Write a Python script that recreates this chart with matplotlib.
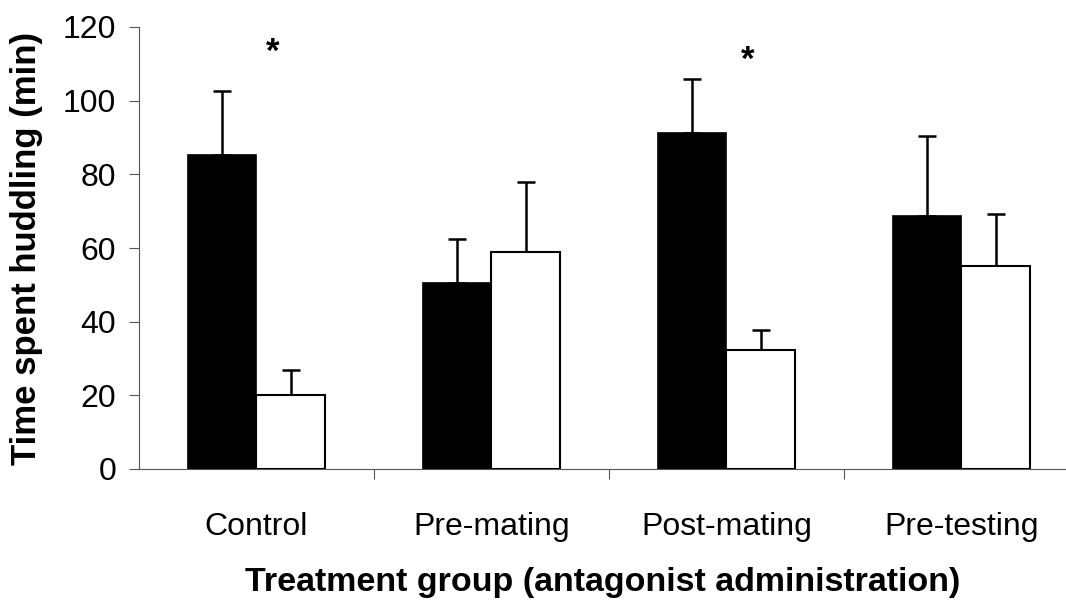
import matplotlib
matplotlib.use("Agg")
import matplotlib.pyplot as plt
import numpy as np

# huddling time per treatment group, mean and upper SEM
groups = ['Control', 'Pre-mating', 'Post-mating', 'Pre-testing']
mean_black = [85.3, 50.6, 91.3, 68.6]
sem_black = [17.3, 11.8, 14.5, 21.9]
mean_white = [20.1, 59.0, 32.3, 55.1]
sem_white = [6.7, 18.8, 5.4, 14.1]
# groups marked as significant
star_groups = [0, 2]
star_y = [113.2, 111.0]

plt.rcParams['font.family'] = ['Liberation Sans', 'DejaVu Sans']

fig = plt.figure(figsize=(10.66, 6.05), dpi=100)
ax = fig.add_axes([139 / 1066, 1 - 469 / 605, 1 - 139 / 1066, (469 - 27) / 605])

x = np.arange(len(groups))
w = 0.291

ax.bar(x - w / 2, mean_black, w, color='black', edgecolor='black', linewidth=1.2, zorder=2)
ax.bar(x + w / 2, mean_white, w, color='white', edgecolor='black', linewidth=1.5, zorder=2)

ax.errorbar(x - w / 2, mean_black, yerr=[np.zeros(4), sem_black], fmt='none',
            ecolor='black', elinewidth=1.8, capsize=6.5, capthick=1.8, zorder=1)
ax.errorbar(x + w / 2, mean_white, yerr=[np.zeros(4), sem_white], fmt='none',
            ecolor='black', elinewidth=1.8, capsize=6.5, capthick=1.8, zorder=1)

offsets = [0.068, 0.091]
for g, yy, off in zip(star_groups, star_y, offsets):
    ax.text(g + off, yy, '*', ha='center', va='center', fontsize=25, fontweight='bold')

ax.set_xlim(-0.5, 3.445)
ax.set_ylim(0, 120)
ax.set_yticks(range(0, 121, 20))
ax.set_xticks(x)
ax.set_xticklabels(groups)
ax.set_xticks([0.5, 1.5, 2.5], minor=True)

ax.tick_params(axis='x', which='major', length=0, pad=31, labelsize=23)
ax.tick_params(axis='x', which='minor', length=7.5, width=0.8, color='#555555', direction='out')
ax.tick_params(axis='y', length=7.5, width=0.8, color='#555555', direction='out', pad=9, labelsize=23)

for s in ['top', 'right']:
    ax.spines[s].set_visible(False)
for s in ['left', 'bottom']:
    ax.spines[s].set_color('#555555')
    ax.spines[s].set_linewidth(0.8)

ax.set_ylabel('Time spent huddling (min)', fontsize=25, fontweight='bold', labelpad=14)
ax.set_xlabel('Treatment group (antagonist administration)', fontsize=24.5,
              fontweight='bold', labelpad=18)

fig.savefig('out.png', dpi=100)
